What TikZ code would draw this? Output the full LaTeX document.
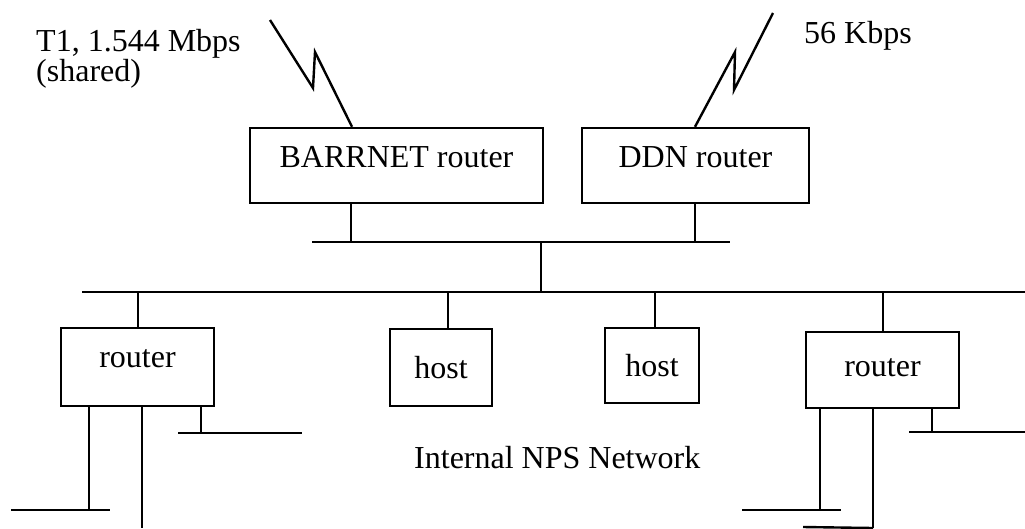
\documentclass[tikz,border=0pt]{standalone}
\usepackage{fontspec}
\setmainfont{Liberation Serif}
\begin{document}
\begin{tikzpicture}[x=1pt,y=-1pt,
  line width=2.4pt,
  every node/.style={font=\fontsize{32}{28}\selectfont},
  box/.style={draw,rectangle,inner sep=0pt,line width=2.4pt},
  wire/.style={draw,line width=2.4pt},
  lbl/.style={inner sep=0pt}]
\useasboundingbox (0,0) rectangle (1025,528);

% boxes
\node[box,minimum width=293pt,minimum height=75pt,text height=22pt,text depth=19pt] (barr) at (396.5,165.5) {BARRNET router};
\node[box,minimum width=227pt,minimum height=75pt,text height=22pt,text depth=19pt] (ddn) at (695.5,165.5) {DDN router};
\node[box,minimum width=153pt,minimum height=78pt,text height=15pt,text depth=15pt] (rl) at (137.5,367) {router};
\node[box,minimum width=102pt,minimum height=77pt] (h1) at (441,367.5) {host};
\node[box,minimum width=94pt,minimum height=75pt] (h2) at (652,365.5) {host};
\node[box,minimum width=153pt,minimum height=76pt,text height=18pt,text depth=6pt] (rr) at (882.5,370) {router};

% labels
\node[lbl,anchor=north west,align=left] (t1) at (35,28) {T1, 1.544 Mbps\\(shared)};
\node[lbl,anchor=base west] (k56) at (803,43) {56 Kbps};
\node[lbl,anchor=base west] (nps) at (413,468) {Internal NPS Network};

% coordinates
\coordinate (ub1) at (312,242);
\coordinate (ub2) at (730,242);
\coordinate (lb1) at (82,292);
\coordinate (lb2) at (1025,292);
\coordinate (ubm) at (541,242);
\coordinate (lbm) at (541,292);

% lightning links
\coordinate (z1a) at (270,20);
\coordinate (z1b) at (313,88);
\coordinate (z1c) at (315,52);
\coordinate (z1d) at (352,0);
\draw[wire] (z1a) -- (z1b) -- (z1c) -- (barr.north -| z1d);
\coordinate (z2a) at (773,13);
\coordinate (z2b) at (734,90);
\coordinate (z2c) at (735,52);
\coordinate (z2d) at (695,0);
\draw[wire] (z2a) -- (z2b) -- (z2c) -- (ddn.north -| z2d);

% buses
\draw[wire] (ub1) -- (ub2);
\draw[wire] (lb1) -- (lb2);
\draw[wire] (ubm) -- (lbm);

% drops
\coordinate (dbarr) at (351,242);
\draw[wire] (barr.south -| dbarr) -- (dbarr);
\coordinate (dddn) at (695,242);
\draw[wire] (ddn.south -| dddn) -- (dddn);
\coordinate (drl) at (138,292);
\draw[wire] (drl) -- (rl.north -| drl);
\coordinate (dh1) at (448,292);
\draw[wire] (dh1) -- (h1.north -| dh1);
\coordinate (dh2) at (655,292);
\draw[wire] (dh2) -- (h2.north -| dh2);
\coordinate (drr) at (883,292);
\draw[wire] (drr) -- (rr.north -| drr);

% left router branches
\coordinate (la) at (89,510);
\coordinate (la1) at (11,510);
\coordinate (la2) at (110,510);
\draw[wire] (rl.south -| la) -- (la);
\draw[wire] (la1) -- (la2);
\coordinate (lbx) at (142,528);
\draw[wire] (rl.south -| lbx) -- (lbx);
\coordinate (lc) at (201,433);
\coordinate (lc1) at (178,433);
\coordinate (lc2) at (302,433);
\draw[wire] (rl.south -| lc) -- (lc);
\draw[wire] (lc1) -- (lc2);

% right router branches
\coordinate (ra) at (820,510);
\coordinate (ra1) at (742,510);
\coordinate (ra2) at (841,510);
\draw[wire] (rr.south -| ra) -- (ra);
\draw[wire] (ra1) -- (ra2);
\coordinate (rbx) at (873,528);
\draw[wire] (rr.south -| rbx) -- (rbx);
\coordinate (rb1) at (803,527);
\draw[wire] (rb1) -- (rbx);
\coordinate (rc) at (932,432);
\coordinate (rc1) at (909,432);
\coordinate (rc2) at (1025,432);
\draw[wire] (rr.south -| rc) -- (rc);
\draw[wire] (rc1) -- (rc2);
\end{tikzpicture}
\end{document}
